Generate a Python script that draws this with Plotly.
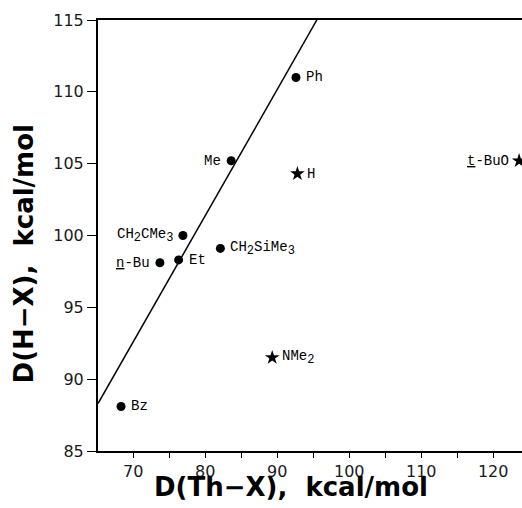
import plotly.graph_objects as go

# Data
SUB = '<sub><span style="font-size:12px">{}</span></sub>'
circle_labels = ["Ph", "Me", "CH" + SUB.format("2") + "CMe" + SUB.format("3"),
                 "CH" + SUB.format("2") + "SiMe" + SUB.format("3"), "Et", "<u>n</u>-Bu", "Bz"]
circle_x = [92.6, 83.6, 76.9, 82.1, 76.3, 73.7, 68.3]
circle_y = [111.0, 105.2, 100.0, 99.1, 98.3, 98.1, 88.1]
circle_side = ["right", "left", "left", "right", "right", "left", "right"]

star_labels = ["H", "<u>t</u>-BuO", "NMe" + SUB.format("2")]
star_x = [92.8, 123.6, 89.3]
star_y = [104.3, 105.2, 91.5]
star_side = ["right", "left", "right"]

fit_x = [65.1, 95.5]
fit_y = [88.3, 115.0]

x_ticks = [70, 80, 90, 100, 110, 120]
x_minor = [75, 85, 95, 105, 115]
y_ticks = [85, 90, 95, 100, 105, 110, 115]

fig = go.Figure()
fig.add_trace(go.Scatter(x=fit_x, y=fit_y, mode="lines",
                         line=dict(color="black", width=1.5), showlegend=False, cliponaxis=False))
fig.add_trace(go.Scatter(x=circle_x, y=circle_y, mode="markers",
                         marker=dict(symbol="circle", size=9, color="black"), showlegend=False, cliponaxis=False))
fig.add_trace(go.Scatter(x=star_x, y=star_y, mode="markers",
                         marker=dict(symbol="star", size=11, color="black"), showlegend=False, cliponaxis=False))

label_font = dict(family="Liberation Mono, DejaVu Sans Mono, monospace", size=14, color="black")
for lab, x, y, side in list(zip(circle_labels, circle_x, circle_y, circle_side)) + \
        list(zip(star_labels, star_x, star_y, star_side)):
    fig.add_annotation(x=x, y=y, text=lab, showarrow=False, font=label_font,
                       xanchor="left" if side == "right" else "right",
                       xshift=8 if side == "right" else -8, yshift=0)

PW, PH = 424, 432
title_font = dict(family="DejaVu Sans, sans-serif", size=26, color="black")
fig.add_annotation(xref="paper", yref="paper", x=(291 - 98) / PW, y=-36 / PH,
                   text="<b>D(Th−X),  kcal/mol</b>", showarrow=False, font=title_font,
                   xanchor="center", yanchor="middle")
fig.add_annotation(xref="paper", yref="paper", x=-74 / PW, y=(452 - 255) / PH,
                   text="<b>D(H−X),  kcal/mol</b>", showarrow=False, font=title_font,
                   textangle=-90, xanchor="center", yanchor="middle")

tick_font = dict(family="DejaVu Sans, sans-serif", size=16, color="#1a1a1a")
fig.update_layout(
    width=522, height=508,
    margin=dict(l=98, r=0, t=20, b=57),
    paper_bgcolor="white", plot_bgcolor="white",
    xaxis=dict(range=[65.1, 124], tickvals=x_ticks, ticks="outside", ticklen=5, tickwidth=1.2,
               tickcolor="black", automargin=False,
               showline=True, linecolor="black", linewidth=2, mirror=True, showgrid=False, zeroline=False,
               tickfont=tick_font,
               minor=dict(tickvals=x_minor, ticks="outside", ticklen=5, tickcolor="black")),
    yaxis=dict(range=[85, 115], tickvals=y_ticks, ticks="outside", ticklen=9, tickwidth=1.2,
               tickcolor="black", automargin=False,
               showline=True, linecolor="black", linewidth=2, showgrid=False, zeroline=False,
               tickfont=tick_font),
)

fig.write_html("out.html", config={"displayModeBar": False},
               post_script="document.body.style.margin='0';document.body.style.overflow='hidden';")
